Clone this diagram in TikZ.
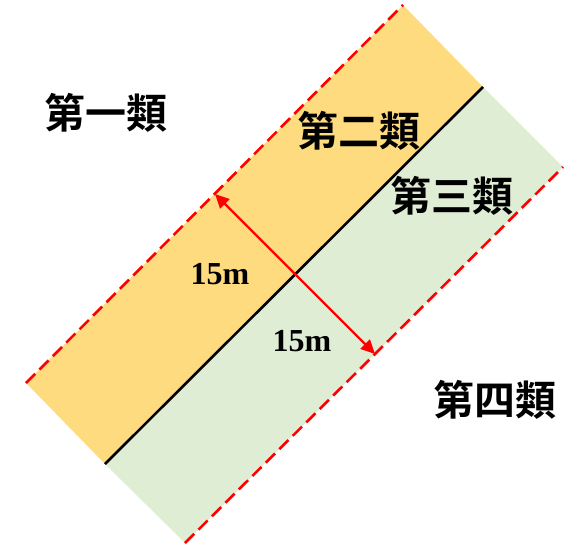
\documentclass[tikz,border=0pt]{standalone}
\usepackage{fontspec}
\setmainfont{Liberation Serif}
\newfontfamily\cjk{Noto Sans CJK TC}[BoldFont={* Bold}]
\usetikzlibrary{arrows.meta}
\definecolor{bandorange}{HTML}{FFDB80}
\definecolor{bandgreen}{HTML}{DFEDD4}
\definecolor{linered}{HTML}{FF0000}
\tikzset{
  redline/.style={draw=linered, line width=2.6pt, dash pattern=on 13pt off 6pt},
  midline/.style={draw=black, line width=2.6pt},
  dimarrow/.style={draw=linered, line width=2.3pt, {Triangle[length=14pt,width=13pt]}-{Triangle[length=14pt,width=13pt]}},
  cjklabel/.style={font=\cjk\bfseries\fontsize{41}{43}\selectfont, inner sep=0pt},
  dimlabel/.style={font=\bfseries\fontsize{32}{34}\selectfont, inner sep=0pt}
}
\begin{document}
\begin{tikzpicture}[x=1pt,y=-1pt]
\useasboundingbox (0,0) rectangle (580,549);
\coordinate (oA) at (26,383);
\coordinate (oB) at (403,5);
\coordinate (mA) at (105,464);
\coordinate (mB) at (483,87);
\coordinate (gA) at (185,543);
\coordinate (gB) at (563,167);
\fill[bandorange] (oA) -- (oB) -- (mB) -- (mA) -- cycle;
\fill[bandgreen] (mA) -- (mB) -- (gB) -- (gA) -- cycle;
\draw[redline] (oA) -- (oB);
\draw[redline] (gA) -- (gB);
\draw[midline] (mA) -- (mB);
\coordinate (arrTop) at (215,194);
\coordinate (arrBot) at (375,354);
\draw[dimarrow] (arrTop) -- (arrBot);
\node[cjklabel] (c1) at (106,113) {第一類};
\node[cjklabel] (c2) at (359,131) {第二類};
\node[cjklabel] (c3) at (452,196) {第三類};
\node[cjklabel] (c4) at (495,400) {第四類};
\node[dimlabel] (d1) at (220,274) {15m};
\node[dimlabel] (d2) at (302,341) {15m};
\end{tikzpicture}
\end{document}
